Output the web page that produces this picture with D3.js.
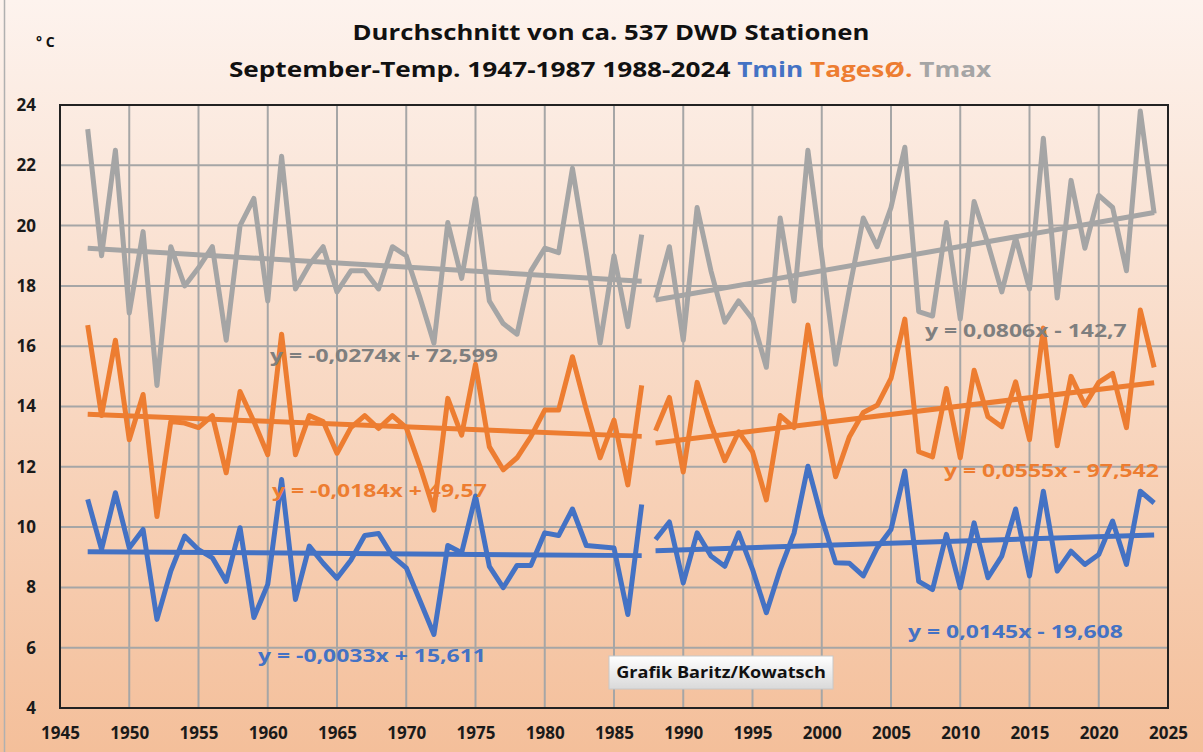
<!DOCTYPE html>
<meta charset="utf-8">
<style>
body { margin: 0; }
svg { display: block; font-family: "Open Sans", sans-serif; }
.grid line { stroke: #a6a6a6; stroke-width: 2px; }
.tick-label { font-size: 17px; font-weight: bold; fill: #1a1a1a; }
.series { fill: none; stroke-width: 5px; stroke-linejoin: round; }
.trend { stroke-width: 5px; }
.eq { font-size: 18.5px; font-weight: bold; }
</style>
<svg width="1203" height="752"></svg>
<script src="https://d3js.org/d3.v7.min.js"></script>
<script>

// Jahre der beiden Perioden
var years1 = d3.range(1947, 1988);
var years2 = d3.range(1988, 2025);

var tmax1 = [23.2,19.0,22.5,17.1,19.8,14.7,19.3,18.0,18.6,19.3,16.2,20.0,20.9,17.5,22.3,17.9,18.7,19.3,17.8,18.5,
             18.5,17.9,19.3,19.0,17.6,16.1,20.1,18.25,20.9,17.5,16.75,16.4,18.5,19.25,19.1,21.9,19.1,16.1,19.0,16.65,19.7];
var tmax2 = [17.6,19.3,16.2,20.6,18.5,16.8,17.5,16.9,15.3,20.25,17.5,22.5,19.0,15.4,17.9,20.25,19.3,20.6,22.6,17.15,
             17.0,20.1,16.9,20.8,19.4,17.8,19.6,17.9,22.9,17.6,21.5,19.25,21.0,20.6,18.5,23.8,20.4];

var tday1 = [16.7,13.7,16.2,12.9,14.4,10.35,13.5,13.45,13.3,13.7,11.8,14.5,13.5,12.4,16.4,12.4,13.7,13.5,12.45,13.3,
             13.7,13.27,13.7,13.3,12.0,10.56,14.27,13.05,15.4,12.66,11.9,12.3,13.0,13.88,13.88,15.65,13.9,12.3,13.55,11.4,14.7];
var tday2 = [13.2,14.3,11.83,14.8,13.4,12.2,13.16,12.5,10.9,13.7,13.3,16.7,14.1,11.67,13.0,13.8,14.04,14.93,16.9,12.5,
             12.33,14.6,12.3,15.2,13.66,13.33,14.82,12.9,16.6,12.7,15.0,14.04,14.8,15.1,13.3,17.2,15.3];

var tmin1 = [10.92,9.26,11.14,9.31,9.92,6.94,8.54,9.7,9.25,8.98,8.2,9.98,7.0,8.1,11.58,7.6,9.37,8.8,8.3,8.9,
             9.72,9.79,9.04,8.65,7.55,6.44,9.39,9.15,11.03,8.7,7.99,8.73,8.73,9.81,9.72,10.6,9.39,9.35,9.31,7.1,10.75];
var tmin2 = [9.59,10.17,8.15,9.81,9.04,8.7,9.81,8.6,7.16,8.6,9.8,12.02,10.3,8.82,8.8,8.38,9.31,9.92,11.86,8.2,
             7.93,9.76,7.99,10.14,8.32,9.04,10.6,8.38,11.19,8.54,9.2,8.76,9.09,10.2,8.76,11.19,10.8];

// Trendgleichungen [steigung, achsenabschnitt] je Periode
var trendTmax = [[-0.0274, 72.599], [0.0806, -142.7]];
var trendTday = [[-0.0184, 49.57], [0.0555, -97.542]];
var trendTmin = [[-0.0033, 15.611], [0.0145, -19.608]];
var eqTmax = ["y = -0,0274x + 72,599", "y = 0,0806x - 142,7"];
var eqTday = ["y = -0,0184x + 49,57", "y = 0,0555x - 97,542"];
var eqTmin = ["y = -0,0033x + 15,611", "y = 0,0145x - 19,608"];

var xTicks = d3.range(1945, 2026, 5);
var yTicks = d3.range(4, 25, 2);

var svg = d3.select("svg");

var defs = svg.append("defs");
var bg = defs.append("linearGradient").attr("id", "bg").attr("x1", 0).attr("y1", 0).attr("x2", 0).attr("y2", 1);
bg.append("stop").attr("offset", "0%").attr("stop-color", "#fdf3ee");
bg.append("stop").attr("offset", "100%").attr("stop-color", "#f4bf9a");
var box = defs.append("linearGradient").attr("id", "box").attr("x1", 0).attr("y1", 0).attr("x2", 0).attr("y2", 1);
box.append("stop").attr("offset", "0%").attr("stop-color", "#ffffff");
box.append("stop").attr("offset", "100%").attr("stop-color", "#d9d9d9");

svg.append("rect").attr("width", 1203).attr("height", 752).attr("fill", "url(#bg)");
svg.append("line").attr("x1", 4.5).attr("x2", 4.5).attr("y1", 0).attr("y2", 752)
    .attr("stroke", "#b0b0b0").attr("stroke-width", 1.5);

var x = d3.scaleLinear().domain([1945, 2025]).range([60, 1168]);
var y = d3.scaleLinear().domain([4, 24]).range([708, 105]);

// Gitter
var grid = svg.append("g").attr("class", "grid");
grid.selectAll(".vx").data(xTicks.slice(1, -1)).enter().append("line")
    .attr("x1", function(d) { return x(d); }).attr("x2", function(d) { return x(d); })
    .attr("y1", y(24)).attr("y2", y(4));
grid.selectAll(".hy").data(yTicks.slice(1, -1)).enter().append("line")
    .attr("y1", function(d) { return y(d); }).attr("y2", function(d) { return y(d); })
    .attr("x1", x(1945)).attr("x2", x(2025));

svg.append("rect").attr("x", x(1945)).attr("y", y(24))
    .attr("width", x(2025) - x(1945)).attr("height", y(4) - y(24))
    .attr("fill", "none").attr("stroke", "#222").attr("stroke-width", 2);

// Achsen
var xAxis = svg.append("g").attr("transform", "translate(0," + y(4) + ")")
    .call(d3.axisBottom(x).tickValues(xTicks).tickFormat(d3.format("d")).tickSize(0).tickPadding(19));
var yAxis = svg.append("g").attr("transform", "translate(" + x(1945) + ",0)")
    .call(d3.axisLeft(y).tickValues(yTicks).tickSize(0).tickPadding(24));
[xAxis, yAxis].forEach(function(a) {
  a.select(".domain").remove();
  a.selectAll("text").attr("class", "tick-label").style("font-family", "'Open Sans', sans-serif");
});

var line = d3.line()
    .x(function(d) { return x(d[0]); })
    .y(function(d) { return y(d[1]); });

function drawSeries(vals1, vals2, trends, color) {
  [[years1, vals1], [years2, vals2]].forEach(function(p, i) {
    svg.append("path").attr("class", "series").attr("stroke", color)
        .attr("d", line(d3.zip(p[0], p[1])));
    var t = trends[i], y0 = p[0][0], y1 = p[0][p[0].length - 1];
    svg.append("path").attr("class", "series trend").attr("stroke", color)
        .attr("d", line([[y0, t[0] * y0 + t[1]], [y1, t[0] * y1 + t[1]]]));
  });
}

drawSeries(tmax1, tmax2, trendTmax, "#a5a5a5");
drawSeries(tday1, tday2, trendTday, "#ed7d31");
drawSeries(tmin1, tmin2, trendTmin, "#4472c4");

// Text etwas in die Breite gezogen, wie im Original
function wideText(px, py, sx) {
  return svg.append("g").attr("transform", "translate(" + px + "," + py + ") scale(" + sx + ",1)")
      .append("text");
}

// Gleichungen
var eqs = [
  [eqTmax[0], 270, 362, "#7f7f7f"], [eqTmax[1], 925, 337, "#7f7f7f"],
  [eqTday[0], 272, 497, "#ed7d31"], [eqTday[1], 944, 477, "#ed7d31"],
  [eqTmin[0], 258, 662, "#4472c4"], [eqTmin[1], 908, 638, "#4472c4"]
];
eqs.forEach(function(d) {
  wideText(d[1], d[2], 1.24).attr("class", "eq").attr("fill", d[3]).text(d[0]);
});

// Quelle
svg.append("rect").attr("x", 609).attr("y", 656).attr("width", 224).attr("height", 33)
    .attr("fill", "url(#box)").attr("stroke", "#c8c8c8");
wideText(721, 678, 1.17).attr("text-anchor", "middle")
    .style("font-size", "15.5px").style("font-weight", "bold").attr("fill", "#111")
    .text("Grafik Baritz/Kowatsch");

// Titel
wideText(611, 40, 1.17).attr("text-anchor", "middle")
    .style("font-size", "22px").style("font-weight", "bold").attr("fill", "#111")
    .text("Durchschnitt von ca. 537 DWD Stationen");
var t2 = wideText(610, 77, 1.19).attr("text-anchor", "middle")
    .style("font-size", "22px").style("font-weight", "bold");
t2.append("tspan").attr("fill", "#111").text("September-Temp. 1947-1987 1988-2024 ");
t2.append("tspan").attr("fill", "#4472c4").text(" Tmin ");
t2.append("tspan").attr("fill", "#ed7d31").text("TagesØ. ");
t2.append("tspan").attr("fill", "#a5a5a5").text("Tmax");

svg.append("text").attr("x", 36).attr("y", 47)
    .style("font-size", "14px").style("font-weight", "bold").attr("fill", "#111")
    .text("° C");

</script>
